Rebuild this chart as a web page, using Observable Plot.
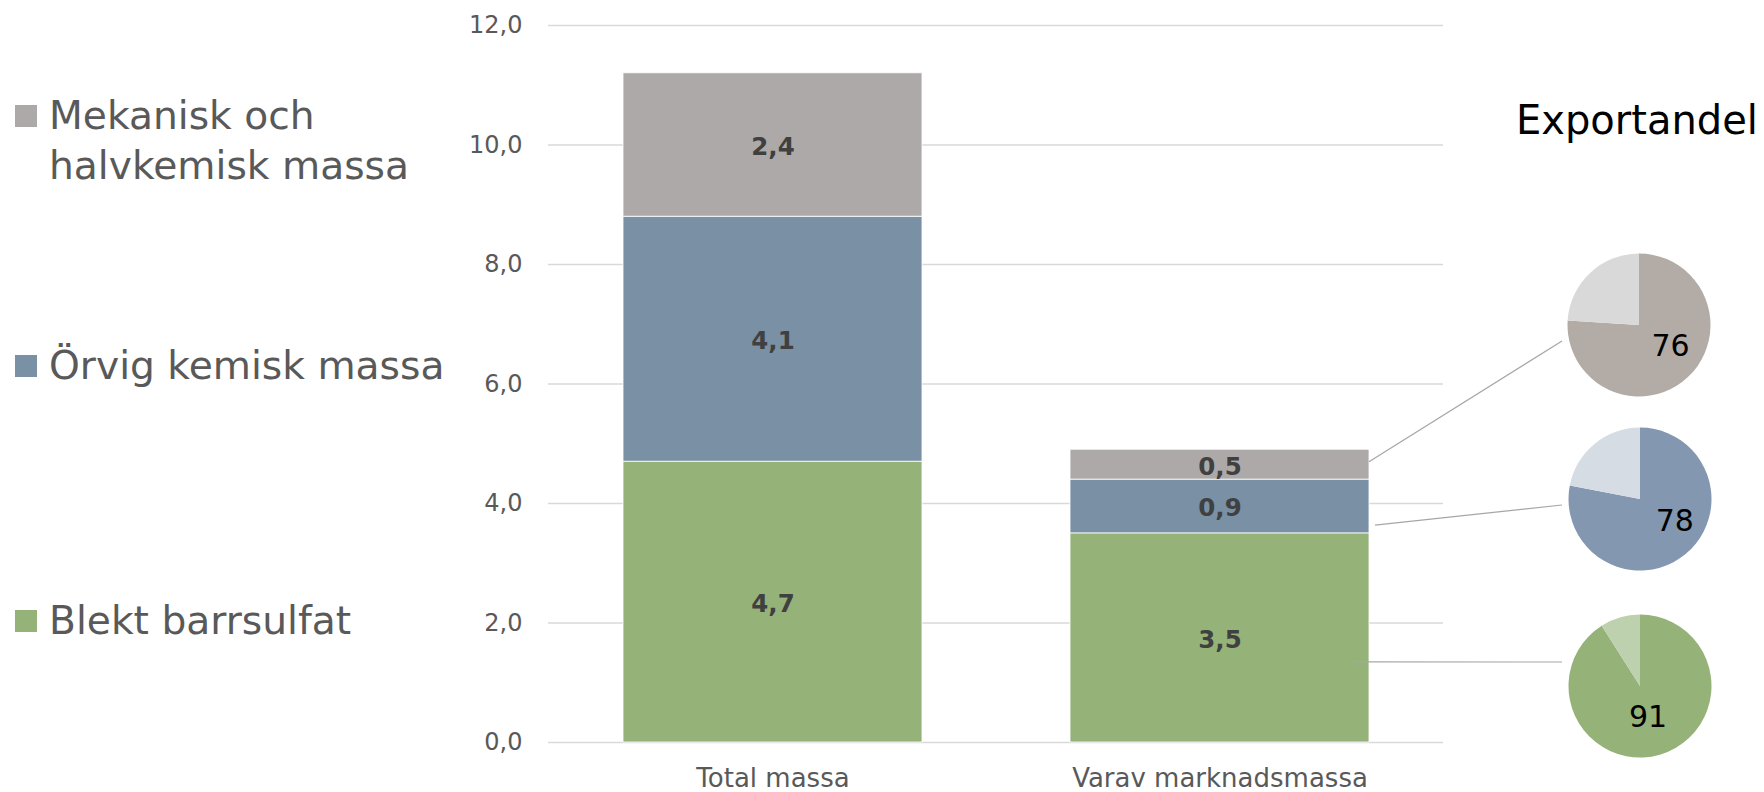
<!DOCTYPE html>
<html>
<head>
<meta charset="utf-8">
<script src="https://cdn.jsdelivr.net/npm/d3@7"></script>
<script src="https://cdn.jsdelivr.net/npm/@observablehq/plot@0.6"></script>
<style>
  html, body { margin: 0; padding: 0; background: #fff; }
  #wrap { position: relative; width: 1764px; height: 792px; font-family: "DejaVu Sans", sans-serif; }
  #wrap svg { position: absolute; left: 0; top: 0; }
  .leg { position: absolute; left: 15px; color: #595959; font-size: 39.2px; line-height: 50px; white-space: nowrap; }
  .leg .sw { position: absolute; left: 0; top: 14.5px; width: 22px; height: 22px; }
  .leg .tx { position: absolute; left: 34px; top: 0; }
  #title { position: absolute; left: 1516px; top: 100px; font-size: 40px; line-height: 40px; color: #000; white-space: nowrap; }
</style>
</head>
<body>
<div id="wrap"></div>
<script>
// ---- data ----
const categories = ["Total massa", "Varav marknadsmassa"];
const seriesNames = ["Blekt barrsulfat", "Örvig kemisk massa", "Mekanisk och halvkemisk massa"];
const blektBarrsulfat = [4.7, 3.5];
const orvigKemiskMassa = [4.1, 0.9];
const mekaniskMassa = [2.4, 0.5];
const exportandel = [91, 78, 76]; // per series, same order as seriesNames
const yTicks = [0, 2, 4, 6, 8, 10, 12];
const titleText = "Exportandel";

// ---- styles ----
const barColors = ["#95B278", "#7A90A5", "#ADA9A8"];
const pieMain = ["#95B278", "#8497B0", "#B3ACA6"];
const pieLight = ["#BDD1AE", "#D6DCE4", "#D9D9D9"];

// ---- layout (pixels) ----
const W = 1764, H = 792;
const pieLayout = [ // per series: pie centre, leader line geometry, label nudge
  {cx: 1640, cy: 686, startDx: -16, startAt: 1.34, endDx: -78, endDy: -24, ldx: -2, ldy: -4},
  {cx: 1640, cy: 499, startDx: 6, startAt: 3.63, endDx: -78, endDy: 6, ldx: 12, ldy: -6},
  {cx: 1639, cy: 325, startDx: 0, startAt: 4.69, endDx: -77, endDy: 16, ldx: 7, ldy: -6}
];
const pieR = 71.5;

const values = [blektBarrsulfat, orvigKemiskMassa, mekaniskMassa];
const rows = categories.flatMap((c, i) =>
  seriesNames.map((s, j) => ({category: c, series: s, value: values[j][i]}))
);
const fmt = v => v.toFixed(1).replace(".", ",");

const pieMark = (index, scales) => {
  const g = d3.create("svg:g");
  const xs = scales.x;
  const bw = typeof xs.bandwidth === "function" ? xs.bandwidth() : 0;
  const barRight = xs(categories[1]) + bw;
  const pie = d3.pie().sort(null);
  const arc = d3.arc().innerRadius(0).outerRadius(pieR);
  seriesNames.forEach((s, i) => {
    const L = pieLayout[i];
    g.append("line")
      .attr("x1", barRight + L.startDx).attr("y1", scales.y(L.startAt))
      .attr("x2", L.cx + L.endDx).attr("y2", L.cy + L.endDy)
      .attr("stroke", "#A6A6A6").attr("stroke-width", 1.2);
    const arcs = pie([exportandel[i], 100 - exportandel[i]]);
    const pg = g.append("g").attr("transform", `translate(${L.cx},${L.cy})`);
    pg.selectAll("path").data(arcs).join("path")
      .attr("d", arc)
      .attr("fill", (d, k) => k === 0 ? pieMain[i] : pieLight[i]);
    const c = arc.centroid(arcs[0]);
    pg.append("text")
      .attr("x", c[0] + L.ldx).attr("y", c[1] + L.ldy)
      .attr("text-anchor", "middle").attr("dy", "0.36em")
      .attr("font-size", 30).attr("fill", "#000")
      .attr("font-family", "DejaVu Sans, sans-serif")
      .text(exportandel[i]);
  });
  return g.node();
};

const chart = Plot.plot({
  width: W,
  height: H,
  marginLeft: 548,
  marginRight: 321,
  marginTop: 25,
  marginBottom: 50,
  style: {fontFamily: "DejaVu Sans, sans-serif", fontSize: "24px", color: "#595959", background: "transparent", overflow: "visible"},
  x: {domain: categories, paddingInner: 0.332, paddingOuter: 0.166, label: null},
  y: {domain: [0, 12], label: null},
  color: {domain: seriesNames, range: barColors},
  marks: [
    Plot.gridY(yTicks, {stroke: "#D9D9D9", strokeOpacity: 1, strokeWidth: 1.5}),
    Plot.axisY(yTicks, {tickSize: 0, tickPadding: 26, tickFormat: fmt, fontSize: 24, fill: "#595959", label: null}),
    Plot.axisX({tickSize: 0, tickPadding: 26, fontSize: 26, fill: "#595959", label: null}),
    Plot.barY(rows, {x: "category", y: "value", fill: "series", stroke: "#fff", strokeWidth: 0.8}),
    Plot.text(rows, Plot.stackY({x: "category", y: "value", z: "series", text: d => fmt(d.value),
      fontSize: 24.5, fontWeight: "bold", fill: "#404040", dy: 2})),
    pieMark
  ]
});

const wrap = document.getElementById("wrap");
wrap.appendChild(chart);

// legend (top to bottom: reversed series order)
const legendTops = [90.6, 340.6, 595.6];
const legendLines = [["Mekanisk och", "halvkemisk massa"], ["Örvig kemisk massa"], ["Blekt barrsulfat"]];
[2, 1, 0].forEach((j, k) => {
  const d = document.createElement("div");
  d.className = "leg";
  d.style.top = legendTops[k] + "px";
  const sw = document.createElement("div");
  sw.className = "sw";
  sw.style.background = barColors[j];
  const tx = document.createElement("div");
  tx.className = "tx";
  tx.innerHTML = legendLines[k].join("<br>");
  d.appendChild(sw); d.appendChild(tx);
  wrap.appendChild(d);
});
const t = document.createElement("div");
t.id = "title";
t.textContent = titleText;
wrap.appendChild(t);
</script>
</body>
</html>
